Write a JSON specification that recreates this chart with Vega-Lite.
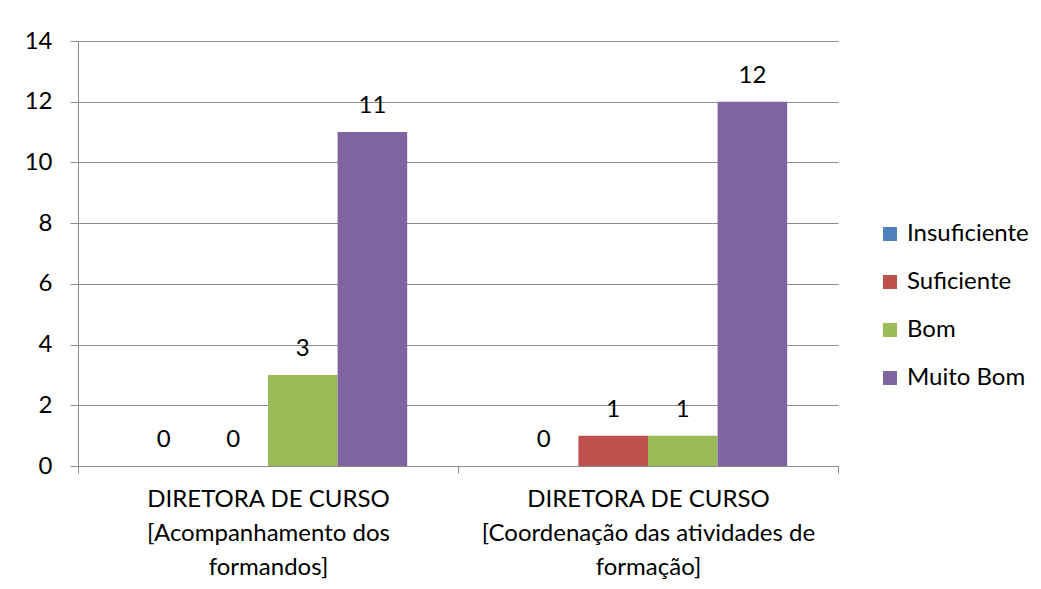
{
  "$schema": "https://vega.github.io/schema/vega-lite/v6.json",
  "width": 760,
  "height": 425,
  "autosize": "none",
  "padding": {"left": 78, "top": 41, "right": 203, "bottom": 123},
  "background": "white",
  "config": {"view": {"stroke": null}, "font": "Lato", "text": {"font": "Lato"}},
  "data": {"values": [
    {"categoria": "DIRETORA DE CURSO [Acompanhamento dos formandos]", "avaliacao": "Insuficiente", "valor": 0},
    {"categoria": "DIRETORA DE CURSO [Acompanhamento dos formandos]", "avaliacao": "Suficiente", "valor": 0},
    {"categoria": "DIRETORA DE CURSO [Acompanhamento dos formandos]", "avaliacao": "Bom", "valor": 3},
    {"categoria": "DIRETORA DE CURSO [Acompanhamento dos formandos]", "avaliacao": "Muito Bom", "valor": 11},
    {"categoria": "DIRETORA DE CURSO [Coordenação das atividades de formação]", "avaliacao": "Insuficiente", "valor": 0},
    {"categoria": "DIRETORA DE CURSO [Coordenação das atividades de formação]", "avaliacao": "Suficiente", "valor": 1},
    {"categoria": "DIRETORA DE CURSO [Coordenação das atividades de formação]", "avaliacao": "Bom", "valor": 1},
    {"categoria": "DIRETORA DE CURSO [Coordenação das atividades de formação]", "avaliacao": "Muito Bom", "valor": 12}
  ]},
  "encoding": {
    "x": {
      "field": "categoria", "type": "nominal", "sort": null,
      "scale": {"paddingInner": 0, "paddingOuter": 0},
      "axis": {
        "title": null, "labelAngle": 0, "tickBand": "extent", "tickSize": 7,
        "tickColor": "#8c8c8c", "domainColor": "#8c8c8c", "grid": false,
        "labelFontSize": 24, "labelColor": "#000000", "labelLimit": 0,
        "labelPadding": 14, "labelLineHeight": 34, "labelBaseline": "top",
        "labelExpr": "datum.value == 'DIRETORA DE CURSO [Acompanhamento dos formandos]' ? ['DIRETORA DE CURSO', '[Acompanhamento dos', 'formandos]'] : datum.value == 'DIRETORA DE CURSO [Coordenação das atividades de formação]' ? ['DIRETORA DE CURSO', '[Coordenação das atividades de', 'formação]'] : ''"
      }
    },
    "xOffset": {
      "field": "avaliacao", "type": "nominal",
      "sort": ["Insuficiente", "Suficiente", "Bom", "Muito Bom"],
      "scale": {"paddingInner": 0, "paddingOuter": 0.73}
    },
    "y": {
      "field": "valor", "type": "quantitative",
      "scale": {"domain": [0, 14], "nice": false},
      "axis": {
        "title": null, "values": [0, 2, 4, 6, 8, 10, 12, 14], "tickSize": 8,
        "tickColor": "#8c8c8c", "domainColor": "#8c8c8c", "gridColor": "#8c8c8c",
        "labelFontSize": 24, "labelColor": "#000000", "labelPadding": 18
      }
    }
  },
  "layer": [
    {
      "mark": {"type": "bar"},
      "encoding": {
        "color": {
          "field": "avaliacao", "type": "nominal",
          "sort": ["Insuficiente", "Suficiente", "Bom", "Muito Bom"],
          "scale": {"domain": ["Insuficiente", "Suficiente", "Bom", "Muito Bom"], "range": ["#4F81BD", "#C0504D", "#9BBB59", "#8064A2"]},
          "legend": {
            "title": null, "orient": "none", "legendX": 800, "legendY": 181,
            "padding": 0, "symbolType": "square", "symbolSize": 196, "symbolStrokeWidth": 0,
            "labelFontSize": 24, "labelColor": "#000000", "labelOffset": 5, "rowPadding": 24
          }
        }
      }
    },
    {
      "mark": {"type": "text", "baseline": "middle", "dy": -26, "fontSize": 24, "color": "#000000"},
      "encoding": {"text": {"field": "valor", "type": "quantitative"}}
    }
  ]
}
